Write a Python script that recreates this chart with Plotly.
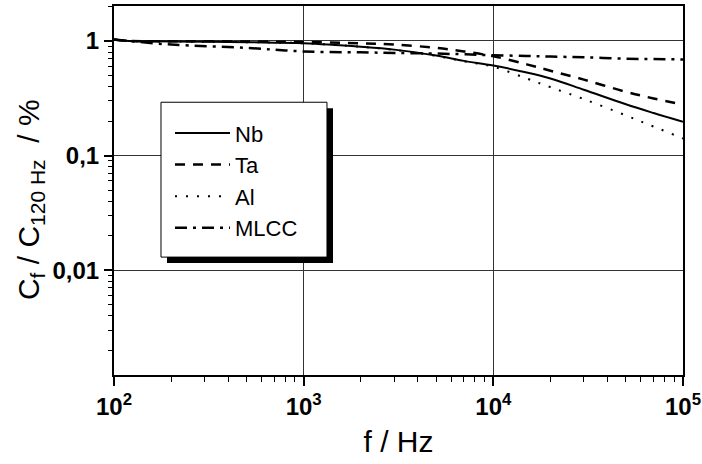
import plotly.graph_objects as go

freq = [100, 120, 200, 500, 1000, 2000, 3000, 5000, 7000, 10000, 15000, 20000, 30000, 50000, 70000, 100000]
nb = [1.03, 1.0, 0.99, 0.975, 0.955, 0.89, 0.84, 0.745, 0.67, 0.61, 0.53, 0.47, 0.375, 0.28, 0.235, 0.197]
ta = [1.03, 1.0, 0.995, 0.99, 0.98, 0.955, 0.93, 0.87, 0.81, 0.735, 0.625, 0.55, 0.46, 0.36, 0.315, 0.279]
al = [1.03, 1.0, 0.99, 0.975, 0.955, 0.89, 0.835, 0.74, 0.665, 0.595, 0.47, 0.395, 0.311, 0.224, 0.179, 0.141]
mlcc = [1.03, 1.0, 0.93, 0.87, 0.81, 0.795, 0.786, 0.776, 0.765, 0.75, 0.74, 0.73, 0.72, 0.70, 0.695, 0.69]

series_names = ["Nb", "Ta", "Al", "MLCC"]
x_tickvals = [100, 1000, 10000, 100000]
x_ticktext = ["<b>10<sup>2</sup></b>", "<b>10<sup>3</sup></b>", "<b>10<sup>4</sup></b>", "<b>10<sup>5</sup></b>"]
y_tickvals = [0.01, 0.1, 1]
y_ticktext = ["<b>0,01</b>", "<b>0,1</b>", "<b>1</b>"]
y_title = "C<sub>f</sub> / C<sub>120 Hz</sub>  / %"
x_title = "f / Hz"

FONT = "Liberation Sans, Arial, sans-serif"

styles = [
    dict(width=2, dash="solid"),
    dict(width=2.5, dash="10px,8px"),
    dict(width=2, dash="2px,9px"),
    dict(width=2.5, dash="12px,6px,3px,6px"),
]

fig = go.Figure()
for name, vals, st in zip(series_names, [nb, ta, al, mlcc], styles):
    fig.add_trace(go.Scatter(
        x=freq, y=vals, name=name, mode="lines",
        line=dict(color="black", width=st["width"], dash=st["dash"], shape="spline"),
    ))

# legend frame with drop shadow
fig.add_shape(type="rect", xref="paper", yref="paper",
              x0=0.0931, x1=0.3849, y0=0.3033, y1=0.723,
              fillcolor="black", line=dict(width=0), layer="above")
fig.add_shape(type="rect", xref="paper", yref="paper",
              x0=0.0826, x1=0.3743, y0=0.3195, y1=0.7392,
              fillcolor="white", line=dict(color="black", width=1), layer="above")

# y-axis title
fig.add_annotation(text=y_title, xref="paper", yref="paper",
                   x=-0.1476, y=0.474, xanchor="center", yanchor="middle",
                   textangle=-90, showarrow=False,
                   font=dict(family=FONT, size=30, color="black"))

fig.update_layout(
    width=702, height=464,
    margin=dict(l=114, r=19, t=6, b=89),
    paper_bgcolor="white", plot_bgcolor="white",
    font=dict(family=FONT, color="black"),
    showlegend=True,
    legend=dict(
        x=0.0984, y=0.7122, xanchor="left", yanchor="top",
        bgcolor="rgba(0,0,0,0)", borderwidth=0,
        font=dict(family=FONT, size=22, color="black"),
        itemwidth=55, tracegroupgap=0,
    ),
    xaxis=dict(
        type="log", range=[2, 5], automargin=False,
        tickvals=x_tickvals, ticktext=x_ticktext,
        tickfont=dict(family=FONT, size=24, color="black"),
        ticks="outside", ticklen=9, tickwidth=1.5, tickcolor="black",
        minor=dict(ticks="outside", ticklen=5, tickwidth=1, tickcolor="black", dtick="D1", showgrid=False),
        showline=True, linewidth=2, linecolor="black", mirror=True,
        showgrid=True, gridcolor="#333", gridwidth=1,
        zeroline=False,
        title=dict(text=x_title, font=dict(family=FONT, size=30, color="black"), standoff=12),
    ),
    yaxis=dict(
        type="log", range=[-2.915, 0.305], automargin=False,
        tickvals=y_tickvals, ticktext=y_ticktext,
        tickfont=dict(family=FONT, size=24, color="black"),
        ticks="outside", ticklen=8, tickwidth=1.5, tickcolor="black",
        minor=dict(ticks="outside", ticklen=4, tickwidth=1, tickcolor="black", dtick="D1", showgrid=False),
        showline=True, linewidth=2, linecolor="black", mirror=True,
        showgrid=True, gridcolor="#333", gridwidth=1,
        zeroline=False,
    ),
)

fig.write_html("out.html", config={"displayModeBar": False},
               post_script="document.body.style.margin='0';document.body.style.overflow='hidden';")
